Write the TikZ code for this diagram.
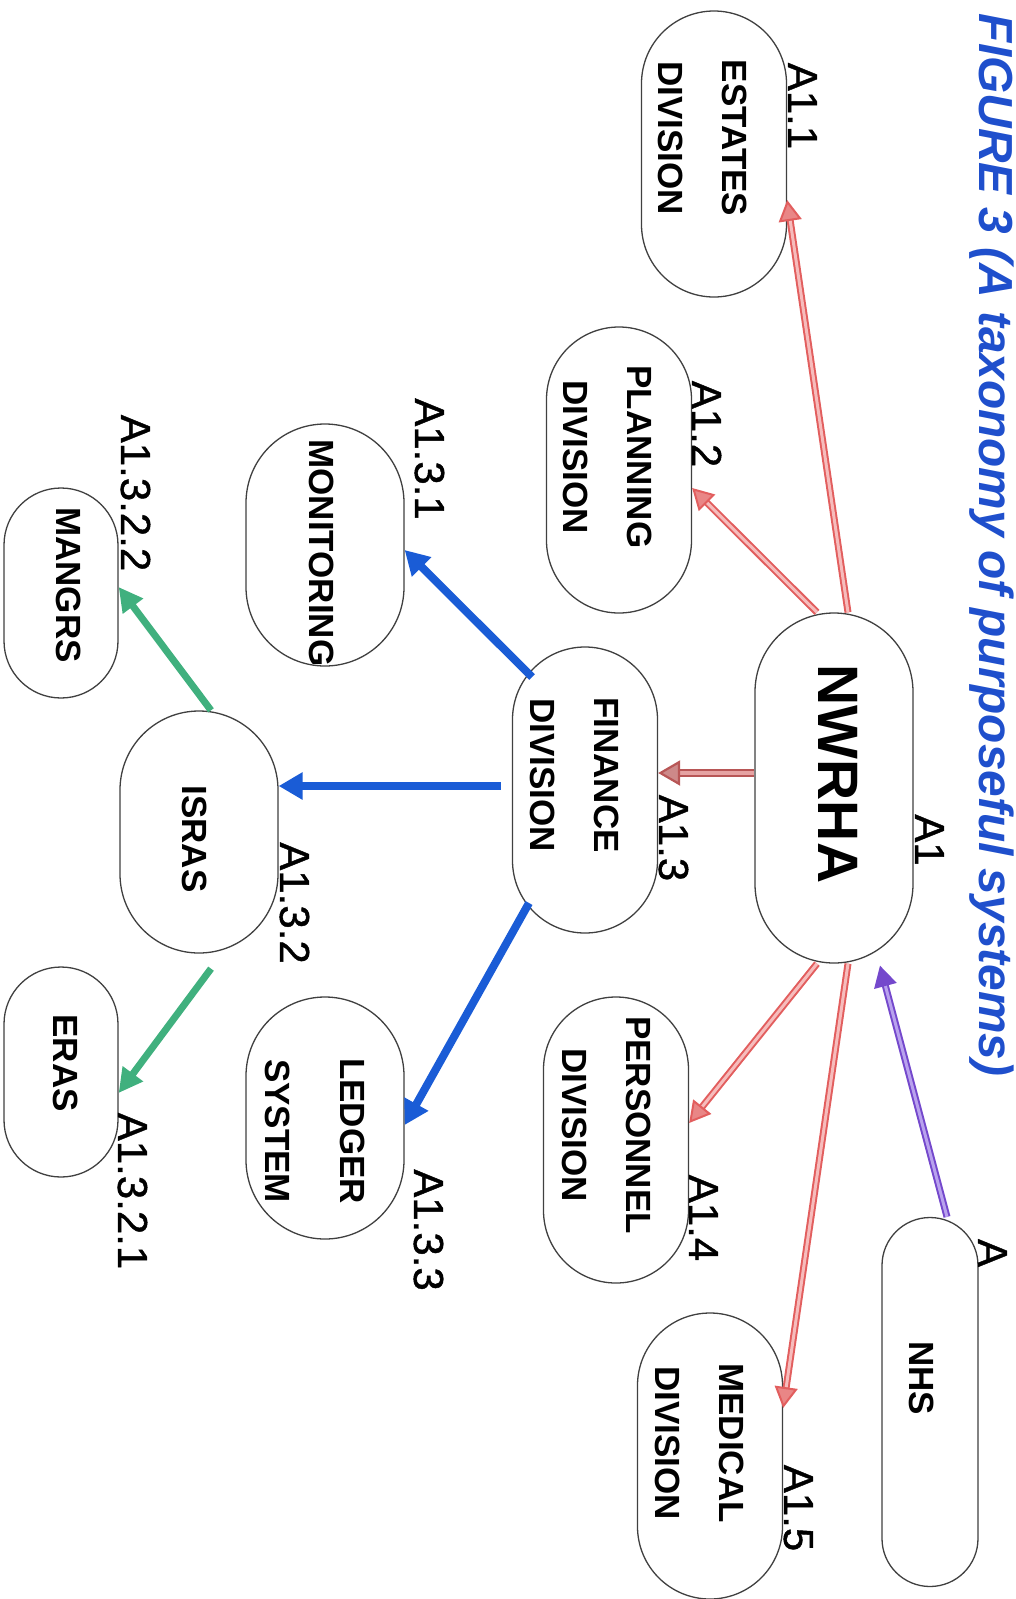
\documentclass[tikz,border=0pt]{standalone}
\usepackage{fontspec}
\setmainfont{Liberation Sans}
\newfontfamily\codefont[FakeBold=1]{Liberation Sans}
\usetikzlibrary{shapes.misc,arrows.meta,calc}

\definecolor{pinkline}{HTML}{E25E5E}
\definecolor{pinkfill}{HTML}{F6BCBC}
\definecolor{roseline}{HTML}{B85656}
\definecolor{rosefill}{HTML}{E6A3A3}
\definecolor{blueline}{HTML}{1A5CD6}
\definecolor{greenline}{HTML}{40B07E}
\definecolor{purpleline}{HTML}{7448CC}
\definecolor{purplefill}{HTML}{B9A2EE}
\definecolor{titleblue}{HTML}{1F4FCC}

\tikzset{
  sysbox/.style={rounded rectangle, rotate=-90, draw=black!75, line width=1.3pt, fill=white, inner sep=0pt},
  systext/.style={rotate=-90, align=center, inner sep=0pt, font=\fontsize{35}{64}\selectfont\bfseries},
  code/.style={rotate=-90, anchor=base, inner sep=0pt, font=\fontsize{42}{42}\selectfont\codefont},
  pinkarrow/.style={draw=pinkline, double=pinkfill, double distance=3pt, line width=2pt,
    -{Triangle[length=21pt,width=23pt,fill=pinkline!75]}},
  rosearrow/.style={draw=roseline, double=rosefill, double distance=3.5pt, line width=2.2pt,
    -{Triangle[length=22pt,width=25pt,fill=roseline!70]}},
  purplearrow/.style={draw=purpleline, double=purplefill, double distance=3pt, line width=2pt,
    -{Triangle[length=21pt,width=23pt,fill=purpleline]}},
  bluearrow/.style={draw=blueline, line width=8pt, -{Triangle[length=24pt,width=26pt]}},
  greenarrow/.style={draw=greenline, line width=7pt, -{Triangle[length=24pt,width=24pt]}}
}

\begin{document}
\begin{tikzpicture}[x=1pt,y=-1pt]
\useasboundingbox (0,0) rectangle (1016,1599);

\def\divlen{286pt}
\def\divwid{145pt}
\def\sublen{242pt}
\def\subwid{158pt}
\def\leaflen{210pt}
\def\leafwid{114pt}

% title
\node[rotate=-90, anchor=base, inner sep=0pt, text=titleblue,
  font=\fontsize{47.8}{48}\selectfont\bfseries\itshape] (title) at (979,545)
  {FIGURE 3 (A taxonomy of purposeful systems)};

% boxes
\node[sysbox, minimum width=350pt, minimum height=158pt] (nwrha) at (834,788) {};
\node[sysbox, minimum width=369pt, minimum height=96pt] (nhs) at (930,1402) {};
\node[sysbox, minimum width=\divlen, minimum height=\divwid] (estates) at (714,154) {};
\node[sysbox, minimum width=\divlen, minimum height=\divwid] (planning) at (619,470) {};
\node[sysbox, minimum width=\divlen, minimum height=\divwid] (finance) at (585,790) {};
\node[sysbox, minimum width=\divlen, minimum height=\divwid] (personnel) at (616,1140) {};
\node[sysbox, minimum width=\divlen, minimum height=\divwid] (medical) at (710,1456) {};
\node[sysbox, minimum width=\sublen, minimum height=\subwid] (monitor) at (325,545) {};
\node[sysbox, minimum width=\sublen, minimum height=\subwid] (isras) at (199,832) {};
\node[sysbox, minimum width=\sublen, minimum height=\subwid] (ledger) at (325,1118) {};
\node[sysbox, minimum width=\leaflen, minimum height=\leafwid] (mangrs) at (61,593) {};
\node[sysbox, minimum width=\leaflen, minimum height=\leafwid] (eras) at (61,1072) {};

% box texts
\node[systext, font=\fontsize{57}{57}\selectfont\bfseries] (nwrha-t) at (838,774) {NWRHA};
\node[systext] (nhs-t) at (922,1378) {NHS};
\node[systext] (estates-t) at (703,138) {ESTATES\\DIVISION};
\node[systext] (planning-t) at (608,457) {PLANNING\\DIVISION};
\node[systext] (finance-t) at (575,775) {FINANCE\\DIVISION};
\node[systext] (personnel-t) at (607,1125) {PERSONNEL\\DIVISION};
\node[systext] (medical-t) at (700,1443) {MEDICAL\\DIVISION};
\node[systext] (monitor-t) at (322,553) {MONITORING};
\node[systext] (isras-t) at (195,839) {ISRAS};
\node[systext] (ledger-t) at (315,1131) {LEDGER\\[11pt]SYSTEM};
\node[systext] (mangrs-t) at (69,585) {MANGRS};
\node[systext] (eras-t) at (66,1063) {ERAS};

% codes
\node[code] (c-a) at (978,1253) {A};
\node[code] (c-a1) at (915,840) {A1};
\node[code] (c-a11) at (788,106) {A1.1};
\node[code] (c-a12) at (692,424) {A1.2};
\node[code] (c-a13) at (659,838) {A1.3};
\node[code] (c-a14) at (689,1218) {A1.4};
\node[code] (c-a15) at (784,1508) {A1.5};
\node[code] (c-a131) at (415,459) {A1.3.1};
\node[code] (c-a132) at (280,903) {A1.3.2};
\node[code] (c-a133) at (414,1230) {A1.3.3};
\node[code] (c-a1322) at (121,493) {A1.3.2.2};
\node[code] (c-a1321) at (118,1191) {A1.3.2.1};

% arrows
\draw[pinkarrow] ($(nwrha.west)+(14,0)$) -- ($(estates.north)+(0,46)$);
\draw[pinkarrow] ($(nwrha.west)+(-17,0)$) -- ($(planning.north)+(0,18)$);
\draw[rosearrow] ($(nwrha.south)+(0,-15)$) -- ($(finance.north)+(0,-17)$);
\draw[pinkarrow] ($(nwrha.east)+(-17,0)$) -- ($(personnel.north)+(0,-17)$);
\draw[pinkarrow] ($(nwrha.east)+(14,0)$) -- ($(medical.north)+(0,-48)$);
\draw[purplearrow] ($(nhs.west)+(17,0)$) -- ($(nwrha.east)+(46,2)$);

\draw[bluearrow] ($(finance.center)+(-53,-113)$) -- ($(monitor.north)+(0,5)$);
\draw[bluearrow] ($(finance.south)+(-11,-4)$) -- ($(isras.north)+(0,-46)$);
\draw[bluearrow] ($(finance.center)+(-56,113)$) -- ($(ledger.north)+(0,7)$);

\draw[greenarrow] ($(isras.west)+(12,0)$) -- ($(mangrs.north)+(0,-6)$);
\draw[greenarrow] ($(isras.east)+(12,15)$) -- ($(eras.north)+(0,21)$);
\end{tikzpicture}
\end{document}
